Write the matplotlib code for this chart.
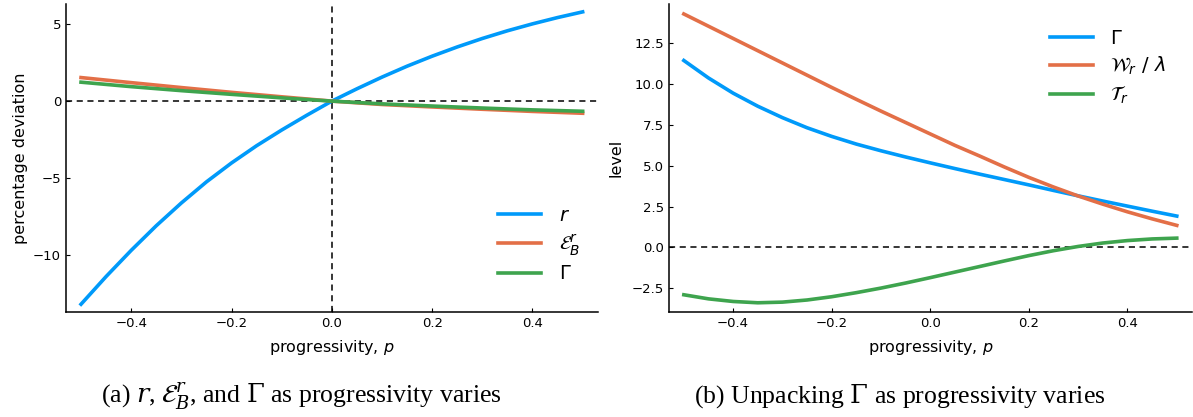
import matplotlib as mpl
import matplotlib.pyplot as plt

# Julia/Plots default palette
BLUE = "#009AFA"
ORANGE = "#E36F47"
GREEN = "#3EA44E"

p_grid = [-0.5, -0.45, -0.4, -0.35, -0.3, -0.25, -0.2, -0.15, -0.1, -0.05, 0.0,
          0.05, 0.1, 0.15, 0.2, 0.25, 0.3, 0.35, 0.4, 0.45, 0.5]

# panel (a): percentage deviations
r_dev = [-13.2, -11.4, -9.7, -8.1, -6.62, -5.25, -4.02, -2.9, -1.88, -0.92, 0.0,
         0.8, 1.56, 2.27, 2.92, 3.52, 4.07, 4.57, 5.02, 5.43, 5.8]
p_coarse = [-0.5, -0.4, -0.3, -0.2, -0.1, 0.0, 0.1, 0.2, 0.3, 0.4, 0.5]
eb_dev = [1.53, 1.2, 0.88, 0.57, 0.28, 0.0, -0.22, -0.38, -0.53, -0.67, -0.79]
gamma_dev = [1.23, 0.94, 0.68, 0.44, 0.21, 0.0, -0.18, -0.32, -0.45, -0.57, -0.66]

# panel (b): levels
gamma_lvl = [11.45, 10.38, 9.45, 8.65, 7.95, 7.33, 6.8, 6.33, 5.92, 5.54, 5.18,
             4.83, 4.49, 4.16, 3.83, 3.49, 3.16, 2.84, 2.53, 2.22, 1.92]
w_lvl = [14.3, 13.55, 12.8, 12.05, 11.3, 10.55, 9.8, 9.07, 8.35, 7.65, 6.95,
         6.25, 5.6, 4.93, 4.29, 3.7, 3.15, 2.65, 2.18, 1.75, 1.35]
t_lvl = [-2.9, -3.15, -3.31, -3.39, -3.35, -3.22, -3.02, -2.77, -2.49, -2.18, -1.85,
         -1.51, -1.17, -0.83, -0.5, -0.2, 0.06, 0.27, 0.42, 0.52, 0.57]

x_ticks = [-0.4, -0.2, 0.0, 0.2, 0.4]
y_ticks_a = [-10, -5, 0, 5]
y_ticks_b = [-2.5, 0.0, 2.5, 5.0, 7.5, 10.0, 12.5]

mpl.rcParams.update({
    "font.family": ["DejaVu Sans"],
    "mathtext.fontset": "dejavusans",
    "axes.linewidth": 1.1,
    "xtick.direction": "in",
    "ytick.direction": "in",
    "xtick.major.size": 3,
    "ytick.major.size": 3,
    "xtick.labelsize": 9.5,
    "ytick.labelsize": 9.5,
    "axes.labelsize": 11.5,
})

LW = 2.6


def fmt(v):
    return f"{v:.1f}".replace("-", "\u2212")


fig = plt.figure(figsize=(11.93, 4.17), dpi=100)
ax1 = fig.add_axes([0.0553, 0.252, 0.4457, 0.738])
ax2 = fig.add_axes([0.5608, 0.252, 0.438, 0.738])

for ax in (ax1, ax2):
    ax.spines["top"].set_visible(False)
    ax.spines["right"].set_visible(False)
    ax.set_xlim(-0.53, 0.53)
    ax.set_xticks(x_ticks)
    ax.set_xticklabels([fmt(v) for v in x_ticks])
    ax.set_xlabel("progressivity, $p$", labelpad=6)

leg_kw = dict(frameon=False, fontsize=14, handlelength=2.2,
              handletextpad=0.9, labelspacing=0.35)

# (a)
ax1.axhline(0, color="black", lw=1.1, ls=(0, (4, 3)), zorder=1)
ax1.axvline(0, color="black", lw=1.1, ls=(0, (4, 3)), zorder=1)
ax1.plot(p_grid, r_dev, color=BLUE, lw=LW, label="$r$")
ax1.plot(p_coarse, eb_dev, color=ORANGE, lw=LW, label=r"$\mathcal{E}_B^r$")
ax1.plot(p_coarse, gamma_dev, color=GREEN, lw=LW, label=r"$\Gamma$")
ax1.set_ylim(-13.7, 6.3)
ax1.set_yticks(y_ticks_a)
ax1.set_ylabel("percentage deviation", labelpad=4)
ax1.legend(loc="lower right", bbox_to_anchor=(1.0, 0.036), **leg_kw)

# (b)
ax2.axhline(0, color="black", lw=1.1, ls=(0, (4, 3)), zorder=1)
ax2.plot(p_grid, gamma_lvl, color=BLUE, lw=LW, label=r"$\Gamma$")
ax2.plot(p_grid, w_lvl, color=ORANGE, lw=LW, label=r"$\mathcal{W}_r\ /\ \lambda$")
ax2.plot(p_grid, t_lvl, color=GREEN, lw=LW, label=r"$\mathcal{T}_r$")
ax2.set_ylim(-3.95, 14.9)
ax2.set_yticks(y_ticks_b)
ax2.set_yticklabels([fmt(v) for v in y_ticks_b])
ax2.set_ylabel("level", labelpad=6)
ax2.legend(loc="upper right", bbox_to_anchor=(0.985, 0.977), **leg_kw)

# sub-captions
cap_kw = dict(ha="center", va="baseline", fontsize=18.5, family="Liberation Serif",
              math_fontfamily="dejavuserif")
fig.text(0.253, 0.034, r"(a) $r$, $\mathcal{E}_B^r$, and $\Gamma$ as progressivity varies",
         **cap_kw)
fig.text(0.754, 0.034, r"(b) Unpacking $\Gamma$ as progressivity varies", **cap_kw)

fig.savefig("out.png", dpi=100)
